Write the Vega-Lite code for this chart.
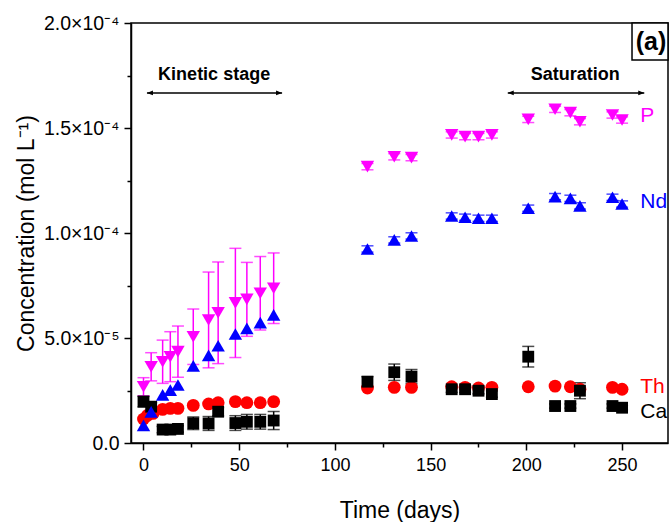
{
  "$schema": "https://vega.github.io/schema/vega-lite/v6.json",
  "width": 537,
  "height": 420,
  "autosize": {"type": "none"},
  "padding": {"left": 131, "top": 23, "right": 3, "bottom": 79},
  "background": "white",
  "config": {
    "view": {"stroke": "black", "strokeWidth": 1.5},
    "font": "Liberation Sans",
    "axis": {
      "grid": false,
      "domainColor": "black",
      "domainWidth": 1.5,
      "tickColor": "black",
      "tickWidth": 1.5,
      "labelColor": "black",
      "titleColor": "black",
      "labelFont": "Liberation Sans",
      "titleFont": "Liberation Sans",
      "labelFontSize": 18,
      "titleFontSize": 23,
      "titleFontWeight": "normal"
    }
  },
  "resolve": {"axis": {"x": "independent", "y": "independent"}},
  "datasets": {
    "pts": [
      {"el": "P", "day": 0, "c": 2.68e-5, "lo": 2.25e-5, "hi": 3.11e-5},
      {"el": "P", "day": 4, "c": 3.63e-5, "lo": 2.96e-5, "hi": 4.30e-5},
      {"el": "P", "day": 10, "c": 3.87e-5, "lo": 2.84e-5, "hi": 4.90e-5},
      {"el": "P", "day": 14, "c": 4.11e-5, "lo": 2.92e-5, "hi": 5.30e-5},
      {"el": "P", "day": 18, "c": 4.35e-5, "lo": 3.13e-5, "hi": 5.57e-5},
      {"el": "P", "day": 26, "c": 5.06e-5, "lo": 3.74e-5, "hi": 6.38e-5},
      {"el": "P", "day": 34, "c": 5.86e-5, "lo": 3.58e-5, "hi": 8.14e-5},
      {"el": "P", "day": 39, "c": 6.20e-5, "lo": 3.78e-5, "hi": 8.62e-5},
      {"el": "P", "day": 48, "c": 6.67e-5, "lo": 4.07e-5, "hi": 9.27e-5},
      {"el": "P", "day": 54, "c": 6.84e-5, "lo": 5.08e-5, "hi": 8.60e-5},
      {"el": "P", "day": 61, "c": 7.13e-5, "lo": 5.38e-5, "hi": 8.88e-5},
      {"el": "P", "day": 68, "c": 7.37e-5, "lo": 5.69e-5, "hi": 9.05e-5},
      {"el": "P", "day": 117, "c": 1.316e-4, "lo": 1.301e-4, "hi": 1.331e-4},
      {"el": "P", "day": 131, "c": 1.363e-4, "lo": 1.348e-4, "hi": 1.378e-4},
      {"el": "P", "day": 140, "c": 1.359e-4, "lo": 1.344e-4, "hi": 1.374e-4},
      {"el": "P", "day": 161, "c": 1.467e-4, "lo": 1.452e-4, "hi": 1.482e-4},
      {"el": "P", "day": 168, "c": 1.459e-4, "lo": 1.444e-4, "hi": 1.474e-4},
      {"el": "P", "day": 175, "c": 1.459e-4, "lo": 1.444e-4, "hi": 1.474e-4},
      {"el": "P", "day": 182, "c": 1.467e-4, "lo": 1.452e-4, "hi": 1.482e-4},
      {"el": "P", "day": 201, "c": 1.541e-4, "lo": 1.526e-4, "hi": 1.556e-4},
      {"el": "P", "day": 215, "c": 1.589e-4, "lo": 1.574e-4, "hi": 1.604e-4},
      {"el": "P", "day": 223, "c": 1.573e-4, "lo": 1.558e-4, "hi": 1.588e-4},
      {"el": "P", "day": 228, "c": 1.530e-4, "lo": 1.515e-4, "hi": 1.545e-4},
      {"el": "P", "day": 245, "c": 1.562e-4, "lo": 1.547e-4, "hi": 1.577e-4},
      {"el": "P", "day": 250, "c": 1.538e-4, "lo": 1.523e-4, "hi": 1.553e-4},
      {"el": "Th", "day": 0, "c": 1.14e-5},
      {"el": "Th", "day": 2, "c": 1.31e-5},
      {"el": "Th", "day": 5, "c": 1.41e-5},
      {"el": "Th", "day": 10, "c": 1.60e-5},
      {"el": "Th", "day": 14, "c": 1.65e-5},
      {"el": "Th", "day": 18, "c": 1.65e-5},
      {"el": "Th", "day": 26, "c": 1.79e-5},
      {"el": "Th", "day": 34, "c": 1.86e-5},
      {"el": "Th", "day": 39, "c": 1.92e-5},
      {"el": "Th", "day": 48, "c": 1.97e-5},
      {"el": "Th", "day": 54, "c": 1.92e-5},
      {"el": "Th", "day": 61, "c": 1.92e-5},
      {"el": "Th", "day": 68, "c": 1.97e-5},
      {"el": "Th", "day": 117, "c": 2.62e-5},
      {"el": "Th", "day": 131, "c": 2.65e-5},
      {"el": "Th", "day": 140, "c": 2.65e-5},
      {"el": "Th", "day": 161, "c": 2.68e-5},
      {"el": "Th", "day": 168, "c": 2.65e-5},
      {"el": "Th", "day": 175, "c": 2.62e-5},
      {"el": "Th", "day": 182, "c": 2.65e-5},
      {"el": "Th", "day": 201, "c": 2.68e-5},
      {"el": "Th", "day": 215, "c": 2.71e-5},
      {"el": "Th", "day": 223, "c": 2.68e-5},
      {"el": "Th", "day": 228, "c": 2.56e-5},
      {"el": "Th", "day": 245, "c": 2.65e-5},
      {"el": "Th", "day": 250, "c": 2.56e-5},
      {"el": "Ca", "day": 0, "c": 1.97e-5, "lo": 1.72e-5, "hi": 2.22e-5},
      {"el": "Ca", "day": 4, "c": 1.73e-5, "lo": 1.53e-5, "hi": 1.93e-5},
      {"el": "Ca", "day": 10, "c": 0.64e-5, "lo": 0.49e-5, "hi": 0.79e-5},
      {"el": "Ca", "day": 14, "c": 0.64e-5, "lo": 0.49e-5, "hi": 0.79e-5},
      {"el": "Ca", "day": 18, "c": 0.67e-5, "lo": 0.52e-5, "hi": 0.82e-5},
      {"el": "Ca", "day": 26, "c": 0.94e-5, "lo": 0.64e-5, "hi": 1.24e-5},
      {"el": "Ca", "day": 34, "c": 0.93e-5, "lo": 0.60e-5, "hi": 1.26e-5},
      {"el": "Ca", "day": 39, "c": 1.49e-5, "lo": 1.29e-5, "hi": 1.69e-5},
      {"el": "Ca", "day": 48, "c": 0.95e-5, "lo": 0.60e-5, "hi": 1.30e-5},
      {"el": "Ca", "day": 54, "c": 1.01e-5, "lo": 0.66e-5, "hi": 1.36e-5},
      {"el": "Ca", "day": 61, "c": 1.01e-5, "lo": 0.66e-5, "hi": 1.36e-5},
      {"el": "Ca", "day": 68, "c": 1.07e-5, "lo": 0.64e-5, "hi": 1.50e-5},
      {"el": "Ca", "day": 117, "c": 2.92e-5, "lo": 2.68e-5, "hi": 3.16e-5},
      {"el": "Ca", "day": 131, "c": 3.37e-5, "lo": 2.98e-5, "hi": 3.76e-5},
      {"el": "Ca", "day": 140, "c": 3.16e-5, "lo": 2.82e-5, "hi": 3.50e-5},
      {"el": "Ca", "day": 161, "c": 2.56e-5, "lo": 2.41e-5, "hi": 2.71e-5},
      {"el": "Ca", "day": 168, "c": 2.56e-5, "lo": 2.41e-5, "hi": 2.71e-5},
      {"el": "Ca", "day": 175, "c": 2.49e-5, "lo": 2.34e-5, "hi": 2.64e-5},
      {"el": "Ca", "day": 182, "c": 2.33e-5, "lo": 2.18e-5, "hi": 2.48e-5},
      {"el": "Ca", "day": 201, "c": 4.11e-5, "lo": 3.62e-5, "hi": 4.60e-5},
      {"el": "Ca", "day": 215, "c": 1.76e-5, "lo": 1.66e-5, "hi": 1.86e-5},
      {"el": "Ca", "day": 223, "c": 1.76e-5, "lo": 1.66e-5, "hi": 1.86e-5},
      {"el": "Ca", "day": 228, "c": 2.49e-5, "lo": 2.11e-5, "hi": 2.87e-5},
      {"el": "Ca", "day": 245, "c": 1.76e-5, "lo": 1.66e-5, "hi": 1.86e-5},
      {"el": "Ca", "day": 250, "c": 1.68e-5, "lo": 1.58e-5, "hi": 1.78e-5},
      {"el": "Nd", "day": 0, "c": 0.84e-5},
      {"el": "Nd", "day": 4, "c": 1.48e-5},
      {"el": "Nd", "day": 10, "c": 2.29e-5},
      {"el": "Nd", "day": 14, "c": 2.52e-5},
      {"el": "Nd", "day": 18, "c": 2.76e-5},
      {"el": "Nd", "day": 26, "c": 3.67e-5},
      {"el": "Nd", "day": 34, "c": 4.17e-5},
      {"el": "Nd", "day": 39, "c": 4.63e-5},
      {"el": "Nd", "day": 48, "c": 5.19e-5},
      {"el": "Nd", "day": 54, "c": 5.46e-5},
      {"el": "Nd", "day": 61, "c": 5.73e-5},
      {"el": "Nd", "day": 68, "c": 6.10e-5},
      {"el": "Nd", "day": 117, "c": 0.924e-4, "lo": 0.909e-4, "hi": 0.939e-4},
      {"el": "Nd", "day": 131, "c": 0.967e-4, "lo": 0.952e-4, "hi": 0.982e-4},
      {"el": "Nd", "day": 140, "c": 0.986e-4, "lo": 0.971e-4, "hi": 1.001e-4},
      {"el": "Nd", "day": 161, "c": 1.081e-4, "lo": 1.066e-4, "hi": 1.096e-4},
      {"el": "Nd", "day": 168, "c": 1.075e-4, "lo": 1.060e-4, "hi": 1.090e-4},
      {"el": "Nd", "day": 175, "c": 1.070e-4, "lo": 1.055e-4, "hi": 1.085e-4},
      {"el": "Nd", "day": 182, "c": 1.070e-4, "lo": 1.055e-4, "hi": 1.085e-4},
      {"el": "Nd", "day": 201, "c": 1.118e-4, "lo": 1.103e-4, "hi": 1.133e-4},
      {"el": "Nd", "day": 215, "c": 1.173e-4, "lo": 1.158e-4, "hi": 1.188e-4},
      {"el": "Nd", "day": 223, "c": 1.165e-4, "lo": 1.150e-4, "hi": 1.180e-4},
      {"el": "Nd", "day": 228, "c": 1.129e-4, "lo": 1.114e-4, "hi": 1.144e-4},
      {"el": "Nd", "day": 245, "c": 1.170e-4, "lo": 1.155e-4, "hi": 1.185e-4},
      {"el": "Nd", "day": 250, "c": 1.138e-4, "lo": 1.123e-4, "hi": 1.153e-4}
    ],
    "labels": [
      {"t": "P", "el": "P", "x": 259.5, "y": 1.557e-4},
      {"t": "Nd", "el": "Nd", "x": 259.5, "y": 1.149e-4},
      {"t": "Th", "el": "Th", "x": 259.5, "y": 2.68e-5},
      {"t": "Ca", "el": "Ca", "x": 259.5, "y": 1.49e-5}
    ],
    "stages": [
      {"t": "Kinetic stage", "x": 36.9, "y": 1.752e-4, "x1": 1.8, "x2": 72.4, "ay": 1.667e-4},
      {"t": "Saturation", "x": 225.6, "y": 1.752e-4, "x1": 190.3, "x2": 261.6, "ay": 1.667e-4}
    ],
    "panel": [
      {"t": "(a)", "x": 265.1, "y": 1.91e-4, "bx1": 255.2, "bx2": 274, "by1": 1.824e-4, "by2": 2.0e-4}
    ]
  },
  "layer": [
    {
      "data": {"name": "pts"},
      "transform": [{"filter": "datum.lo != null"}],
      "mark": {"type": "rule", "strokeWidth": 1.5},
      "encoding": {
        "x": {
          "field": "day", "type": "quantitative",
          "scale": {"domain": [-6.53, 274], "nice": false, "zero": false},
          "axis": {
            "orient": "bottom",
            "title": "Time (days)",
            "values": [0, 50, 100, 150, 200, 250],
            "tickSize": 7,
            "labelPadding": 6,
            "titlePadding": 25
          }
        },
        "y": {
          "field": "lo", "type": "quantitative",
          "scale": {"domain": [0, 0.0002], "nice": false, "zero": true},
          "axis": {
            "orient": "left",
            "title": "Concentration (mol L⁻¹)",
            "values": [0, 0.00005, 0.0001, 0.00015, 0.0002],
            "labelExpr": "round(datum.value*1e5) == 0 ? '0.0' : round(datum.value*1e5) == 5 ? '5.0×10⁻⁵' : round(datum.value*1e5) == 10 ? '1.0×10⁻⁴' : round(datum.value*1e5) == 15 ? '1.5×10⁻⁴' : round(datum.value*1e5) == 20 ? '2.0×10⁻⁴' : ''",
            "labelFontSize": 19.5,
            "tickSize": 7,
            "labelPadding": 5,
            "titlePadding": 5
          }
        },
        "y2": {"field": "hi"},
        "color": {
          "field": "el", "type": "nominal",
          "scale": {"domain": ["P", "Nd", "Th", "Ca"], "range": ["#ff00ff", "#0000ff", "#ff0000", "#000000"]},
          "legend": null
        }
      }
    },
    {
      "data": {"name": "pts"},
      "transform": [{"filter": "datum.lo != null"}],
      "mark": {"type": "tick", "orient": "horizontal", "size": 12, "thickness": 1.5},
      "encoding": {
        "x": {
          "field": "day", "type": "quantitative",
          "axis": {"orient": "bottom", "values": [25, 75, 125, 175, 225], "labels": false, "domain": false, "tickSize": 4, "title": null}
        },
        "y": {
          "field": "lo", "type": "quantitative",
          "axis": {"orient": "left", "values": [0.000025, 0.000075, 0.000125, 0.000175], "labels": false, "domain": false, "tickSize": 4, "title": null}
        },
        "color": {"field": "el", "type": "nominal", "legend": null}
      }
    },
    {
      "data": {"name": "pts"},
      "transform": [{"filter": "datum.lo != null"}],
      "mark": {"type": "tick", "orient": "horizontal", "size": 12, "thickness": 1.5},
      "encoding": {
        "x": {"field": "day", "type": "quantitative", "axis": null},
        "y": {"field": "hi", "type": "quantitative", "axis": null},
        "color": {"field": "el", "type": "nominal", "legend": null}
      }
    },
    {
      "data": {"name": "pts"},
      "transform": [{"filter": "datum.el == 'P'"}],
      "mark": {"type": "point", "shape": "triangle-down", "filled": true, "opacity": 1, "size": 180, "color": "#ff00ff"},
      "encoding": {
        "x": {"field": "day", "type": "quantitative", "axis": null},
        "y": {"field": "c", "type": "quantitative", "axis": null}
      }
    },
    {
      "data": {"name": "pts"},
      "transform": [{"filter": "datum.el == 'Th'"}],
      "mark": {"type": "point", "shape": "circle", "filled": true, "opacity": 1, "size": 165, "color": "#ff0000"},
      "encoding": {
        "x": {"field": "day", "type": "quantitative", "axis": null},
        "y": {"field": "c", "type": "quantitative", "axis": null}
      }
    },
    {
      "data": {"name": "pts"},
      "transform": [{"filter": "datum.el == 'Ca'"}],
      "mark": {"type": "point", "shape": "square", "filled": true, "opacity": 1, "size": 140, "color": "#000000"},
      "encoding": {
        "x": {"field": "day", "type": "quantitative", "axis": null},
        "y": {"field": "c", "type": "quantitative", "axis": null}
      }
    },
    {
      "data": {"name": "pts"},
      "transform": [{"filter": "datum.el == 'Nd'"}],
      "mark": {"type": "point", "shape": "triangle-up", "filled": true, "opacity": 1, "size": 180, "color": "#0000ff"},
      "encoding": {
        "x": {"field": "day", "type": "quantitative", "axis": null},
        "y": {"field": "c", "type": "quantitative", "axis": null}
      }
    },
    {
      "data": {"name": "labels"},
      "mark": {"type": "text", "align": "left", "baseline": "middle", "fontSize": 21, "font": "Liberation Sans"},
      "encoding": {
        "x": {"field": "x", "type": "quantitative", "axis": null},
        "y": {"field": "y", "type": "quantitative", "axis": null},
        "text": {"field": "t"},
        "color": {"field": "el", "type": "nominal", "legend": null}
      }
    },
    {
      "data": {"name": "stages"},
      "mark": {"type": "text", "align": "center", "baseline": "middle", "fontSize": 18, "fontWeight": "bold", "font": "Liberation Sans", "color": "black"},
      "encoding": {
        "x": {"field": "x", "type": "quantitative", "axis": null},
        "y": {"field": "y", "type": "quantitative", "axis": null},
        "text": {"field": "t"}
      }
    },
    {
      "data": {"name": "stages"},
      "mark": {"type": "rule", "strokeWidth": 1.5, "color": "black"},
      "encoding": {
        "x": {"field": "x1", "type": "quantitative", "axis": null},
        "x2": {"field": "x2"},
        "y": {"field": "ay", "type": "quantitative", "axis": null}
      }
    },
    {
      "data": {"name": "stages"},
      "mark": {"type": "point", "shape": "M0,0L2,-0.8L2,0.8Z", "filled": true, "opacity": 1, "size": 36, "color": "black"},
      "encoding": {
        "x": {"field": "x1", "type": "quantitative", "axis": null},
        "y": {"field": "ay", "type": "quantitative", "axis": null}
      }
    },
    {
      "data": {"name": "stages"},
      "mark": {"type": "point", "shape": "M0,0L-2,-0.8L-2,0.8Z", "filled": true, "opacity": 1, "size": 36, "color": "black"},
      "encoding": {
        "x": {"field": "x2", "type": "quantitative", "axis": null},
        "y": {"field": "ay", "type": "quantitative", "axis": null}
      }
    },
    {
      "data": {"name": "panel"},
      "mark": {"type": "rect", "fill": "white", "stroke": "black", "strokeWidth": 1.5},
      "encoding": {
        "x": {"field": "bx1", "type": "quantitative", "axis": null},
        "x2": {"field": "bx2"},
        "y": {"field": "by1", "type": "quantitative", "axis": null},
        "y2": {"field": "by2"}
      }
    },
    {
      "data": {"name": "panel"},
      "mark": {"type": "text", "align": "center", "baseline": "middle", "fontSize": 25, "fontWeight": "bold", "font": "Liberation Sans", "color": "black"},
      "encoding": {
        "x": {"field": "x", "type": "quantitative", "axis": null},
        "y": {"field": "y", "type": "quantitative", "axis": null},
        "text": {"field": "t"}
      }
    }
  ]
}
